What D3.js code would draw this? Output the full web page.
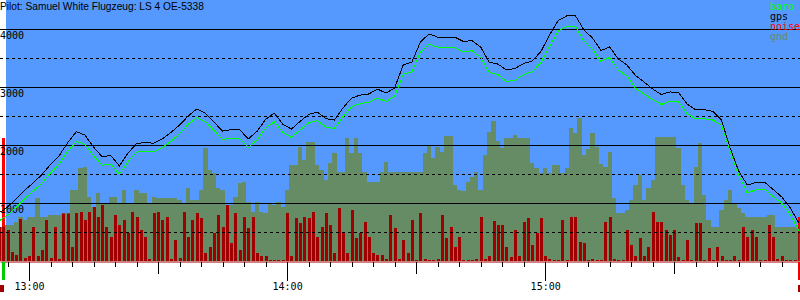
<!DOCTYPE html>
<html>
<head>
<meta charset="utf-8">
<script src="https://cdn.jsdelivr.net/npm/d3@7"></script>
<style>
body { margin: 0; background: #fff; }
svg { display: block; }
.mono { font-family: "DejaVu Sans Mono", monospace; font-size: 10px; }
</style>
</head>
<body>
<svg id="svg" width="800" height="300"></svg>
<script>
const title = 'Pilot: Samuel White Flugzeug: LS 4 OE-5338';
const viewStart = '12:53:15';
const viewEnd = '15:59:15';
const trackStart = '12:53';
const trackStep = 2;   // minutes between gps / baro fixes
const groundStep = 1;  // minutes between gnd / noise samples

// altitude in m
const gps = [830, 930, 1070, 1220, 1350, 1490, 1665, 1815, 2040, 2230,
    2170, 1965, 1795, 1820, 1640, 1860, 2025, 2045, 2030, 2105,
    2215, 2345, 2500, 2620, 2550, 2395, 2240, 2265, 2260, 2105,
    2235, 2440, 2550, 2360, 2275, 2405, 2525, 2570, 2455, 2430,
    2640, 2810, 2860, 2880, 2965, 2895, 2985, 3380, 3430, 3775,
    3915, 3860, 3855, 3860, 3785, 3800, 3690, 3430, 3395, 3295,
    3320, 3405, 3450, 3610, 3895, 4145, 4225, 4235, 3985, 3845,
    3630, 3690, 3485, 3380, 3200, 3085, 2965, 2870, 2915, 2905,
    2705, 2605, 2610, 2580, 2430, 1950, 1550, 1310, 1355, 1360,
    1235, 1105, 915, 655];
const baro = [690, 790, 925, 1075, 1205, 1345, 1520, 1670, 1890, 2060,
    2010, 1815, 1650, 1670, 1495, 1715, 1875, 1895, 1885, 1955,
    2065, 2195, 2355, 2475, 2405, 2250, 2095, 2120, 2110, 1960,
    2090, 2295, 2400, 2215, 2130, 2260, 2380, 2420, 2310, 2285,
    2490, 2660, 2715, 2735, 2815, 2750, 2835, 3220, 3260, 3600,
    3740, 3685, 3680, 3685, 3610, 3625, 3510, 3250, 3215, 3095,
    3120, 3215, 3265, 3420, 3700, 3960, 4045, 4050, 3790, 3650,
    3440, 3510, 3290, 3190, 2975, 2880, 2780, 2700, 2750, 2745,
    2540, 2450, 2450, 2430, 2345, 1895, 1480, 1170, 1230, 1240,
    1110, 1000, 800, 520];
const gnd = [590, 590, 620, 620, 670, 765, 705, 765, 765, 1080,
    765, 765, 795, 795, 795, 820, 820, 1225, 1225, 1600,
    1625, 1110, 935, 1165, 995, 995, 1110, 1110, 995, 1225,
    995, 995, 1225, 1165, 1165, 995, 1110, 1080, 1080, 1080,
    1080, 1080, 1050, 995, 1255, 1050, 1050,
    1225, 1950, 1570, 1515, 1255, 1225, 965, 965, 1110, 1345,
    1365, 1020, 850, 1020, 850, 820, 995, 965, 1020, 935,
    1225, 1655, 1655, 1970, 1740, 2055, 2055, 1655, 1570, 1395,
    1685, 1855, 1540, 1540, 2115, 1855, 2115, 1855, 1540, 1365,
    1365, 1365, 1540, 1710, 1540, 1540, 1540,
    1540, 1540, 1540, 1540, 1540, 1855, 1990, 1770, 1970, 1885,
    2155, 2155, 1310, 1225, 1205, 1365, 1455, 1540, 1225, 1825,
    2230, 2415, 2070, 1945, 2125, 2125, 2170, 2125, 2125, 2125,
    1685, 1600, 1520, 1600, 1520, 1655, 1655, 1520, 1600, 2290,
    2200, 2460, 1825, 1925, 2200, 1970,
    1670, 1625, 1885, 1080, 820, 820, 880, 1050, 1310, 1485,
    1050, 1255, 1395, 2145, 2145, 2145, 2145, 2145, 1945, 1310,
    1050, 995, 1625, 2030, 1140, 705, 590, 590, 880, 1050,
    1225, 995, 910, 820, 765, 765, 765, 765, 765, 795,
    795, 590, 590, 590, 590, 590, 590];
const noise = [590, 2120, 535, 160, 100, 720, 50, 80, 590, 80,
    190, 705, 60, 590, 40, 820, 820, 240, 820, 850,
    705, 850, 935, 765, 965, 590, 420, 795, 620, 705,
    480, 850, 765, 535, 420, 30, 820, 850, 705, 765,
    40, 360, 60, 840, 420, 705, 820,
    735, 130, 245, 480, 795, 590, 965, 305, 820, 190,
    765, 565, 765, 130, 90, 80, 20, 20, 20, 20,
    820, 90, 735, 650, 765, 735, 850, 420, 590, 820,
    620, 130, 910, 480, 140, 880, 390, 480, 680, 420,
    130, 100, 100, 40, 795, 565, 30,
    360, 130, 705, 20, 820, 40, 20, 20, 30, 795,
    390, 590, 245, 420, 20, 20, 20, 30, 765, 40,
    90, 690, 620, 620, 245, 70, 535, 80, 680, 735,
    275, 480, 735, 90, 40, 20, 20, 705, 20, 765,
    765, 330, 310, 20, 40, 20,
    20, 680, 765, 40, 20, 20, 535, 275, 90, 390,
    80, 245, 850, 680, 680, 535, 450, 535, 70, 20,
    360, 20, 650, 650, 20, 220, 20, 245, 80, 20,
    20, 80, 20, 590, 420, 535, 420, 20, 20, 620,
    420, 30, 90, 20, 20, 20, 765];

const altGrid = [500, 1000, 1500, 2000, 2500, 3000, 3500, 4000];
const altLabels = [1000, 2000, 3000, 4000];
const legendNames = ['baro', 'gps', 'noise', 'gnd'];
const legendColors = ['#00ff00', '#000000', '#ff0000', '#668866'];

const W = 800, H = 261;
const svg = d3.select('#svg');

const x = d3.scaleTime()
    .domain([d3.timeParse('%H:%M:%S')(viewStart), d3.timeParse('%H:%M:%S')(viewEnd)])
    .range([0, W]);
const y = d3.scaleLinear().domain([0, 4500]).range([H, 0]);

const t0 = d3.timeParse('%H:%M')(trackStart);
const track = gps.map((v, i) => ({ t: d3.timeMinute.offset(t0, i * trackStep), gps: v, baro: baro[i] }));
const ground = gnd.map((v, i) => ({ t: d3.timeMinute.offset(t0, i * groundStep), gnd: v, noise: noise[i] }));

// background (left margin stays white)
svg.append('rect').attr('x', 6).attr('y', 0).attr('width', W - 6).attr('height', H).attr('fill', '#5599ff');

const gndArea = d3.area()
    .curve(d3.curveStep)
    .x(d => x(d.t))
    .y0(H)
    .y1(d => y(d.gnd));

svg.append('clipPath').attr('id', 'gndClip')
    .append('path').attr('d', gndArea(ground));

function noiseBars(g, color) {
    g.selectAll('rect')
        .data(ground)
        .join('rect')
        .attr('x', d => Math.round(x(d.t)) - 1)
        .attr('width', 3)
        .attr('y', d => y(d.noise))
        .attr('height', d => H - y(d.noise))
        .attr('fill', color)
        .attr('shape-rendering', 'crispEdges');
}

// noise sticking out above ground shows bright red, inside it dark red
svg.append('g').call(noiseBars, '#ff0000');
svg.append('path').attr('d', gndArea(ground)).attr('fill', '#668c66').attr('shape-rendering', 'crispEdges');
svg.append('g').attr('clip-path', 'url(#gndClip)').call(noiseBars, '#a00000');

// grid
svg.append('g').selectAll('line')
    .data(altGrid)
    .join('line')
    .attr('x1', 0).attr('x2', W)
    .attr('y1', d => Math.round(y(d)) + 0.5)
    .attr('y2', d => Math.round(y(d)) + 0.5)
    .attr('stroke', '#000')
    .attr('stroke-dasharray', d => d % 1000 == 0 ? null : '3,3');

svg.append('g').selectAll('text')
    .data(altLabels)
    .join('text')
    .attr('class', 'mono')
    .attr('x', 0)
    .attr('y', d => Math.round(y(d)) + 10)
    .text(d => d);

const line = key => d3.line().x(d => x(d.t)).y(d => y(d[key]));
svg.append('path').attr('d', line('baro')(track))
    .attr('fill', 'none').attr('stroke', '#00ff00').attr('shape-rendering', 'crispEdges');
svg.append('path').attr('d', line('gps')(track))
    .attr('fill', 'none').attr('stroke', '#000').attr('shape-rendering', 'crispEdges');

// time axis: 5 min, 30 min and hour ticks
const axisY = H + 0.5;
const minor = svg.append('g').attr('transform', `translate(0,${axisY})`)
    .call(d3.axisBottom(x).ticks(d3.timeMinute.every(5)).tickSize(5).tickSizeOuter(0).tickFormat(''));
minor.select('.domain').attr('stroke', '#a00000');
svg.append('g').attr('transform', `translate(0,${axisY})`)
    .call(d3.axisBottom(x).ticks(d3.timeMinute.every(30)).tickSize(12).tickSizeOuter(0).tickFormat(''))
    .select('.domain').remove();
const major = svg.append('g').attr('transform', `translate(0,${axisY})`)
    .call(d3.axisBottom(x).ticks(d3.timeHour.every(1)).tickSize(19).tickSizeOuter(0)
        .tickPadding(2).tickFormat(d3.timeFormat('%H:%M')));
major.select('.domain').remove();
major.selectAll('text').attr('class', 'mono').attr('font-family', null).attr('font-size', null).attr('fill', '#000');
svg.selectAll('.tick line').attr('shape-rendering', 'crispEdges');

// takeoff / landing markers under the axis
svg.append('rect').attr('x', 2).attr('y', 262).attr('width', 3).attr('height', 18).attr('fill', '#00cc00');
svg.append('rect').attr('x', 0).attr('y', 285).attr('width', 4).attr('height', 7).attr('fill', '#a00000');
svg.append('rect').attr('x', 798).attr('y', 262).attr('width', 2).attr('height', 18).attr('fill', '#ee0000');
svg.append('rect').attr('x', 798).attr('y', 285).attr('width', 2).attr('height', 7).attr('fill', '#a00000');

svg.append('text')
    .attr('x', 0).attr('y', 10)
    .attr('font-family', '"Liberation Sans", Arial, sans-serif')
    .attr('font-size', '10.2px')
    .text(title);

svg.append('g').selectAll('text')
    .data(legendNames)
    .join('text')
    .attr('class', 'mono')
    .attr('x', 770)
    .attr('y', (d, i) => 10 + i * 10)
    .attr('fill', (d, i) => legendColors[i])
    .text(d => d);
</script>
</body>
</html>
